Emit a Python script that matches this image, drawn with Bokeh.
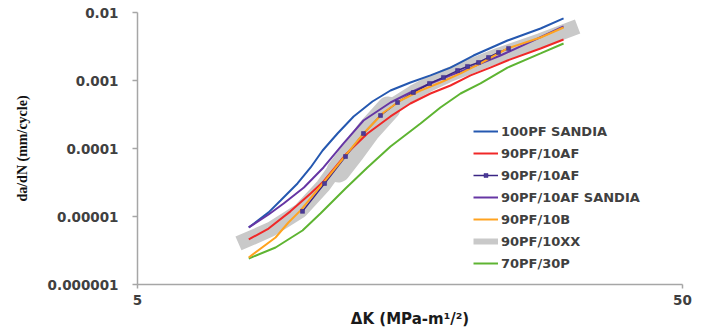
from bokeh.plotting import figure
from bokeh.models import FixedTicker, CustomJSTickFormatter, Legend, LegendItem
from bokeh.embed import file_html
from bokeh.resources import INLINE

# ---- data ----
X_TICKS = [5, 50]
X_LABELS = ["5", "50"]
Y_TICKS = [1e-6, 1e-5, 1e-4, 1e-3, 1e-2]
Y_LABELS = ["0.000001", "0.00001", "0.0001", "0.001", "0.01"]

sandia100_dk = [8.00, 8.70, 9.15, 9.83, 10.39, 10.93, 11.64, 12.46, 13.49, 14.56, 15.84, 17.24, 18.76, 20.68, 23.87, 27.45, 30.25]
sandia100_da = [6.9e-6, 1.15e-5, 1.72e-5, 3.06e-5, 5.26e-5, 9.35e-5, 1.66e-4, 2.96e-4, 4.91e-4, 7.13e-4, 9.35e-4, 1.19e-3, 1.55e-3, 2.33e-3, 3.87e-3, 5.82e-3, 8.2e-3]

af_dk = [8.00, 8.70, 9.54, 10.39, 10.97, 12.10, 13.21, 14.56, 15.84, 17.24, 18.76, 20.42, 22.2, 23.87, 27.45, 30.25]
af_da = [4.59e-6, 6.66e-6, 1.19e-5, 2.18e-5, 3.27e-5, 8.44e-5, 1.66e-4, 2.96e-4, 4.59e-4, 6.44e-4, 8.44e-4, 1.19e-3, 1.55e-3, 1.97e-3, 2.96e-3, 4.01e-3]

afm_dk = [10.04, 11.02, 12.04, 12.99, 13.96, 15.0, 16.04, 17.17, 18.21, 19.33, 20.16, 21.12, 22.03, 22.98, 23.98]
afm_da = [1.19e-5, 3.06e-5, 7.63e-5, 1.66e-4, 3.06e-4, 4.75e-4, 6.66e-4, 9.04e-4, 1.11e-3, 1.40e-3, 1.61e-3, 1.84e-3, 2.18e-3, 2.58e-3, 2.96e-3]

afs_dk = [8.00, 8.70, 9.27, 10.10, 10.97, 11.94, 12.99, 14.56, 15.84, 17.24, 18.76, 20.42, 23.17, 26.6, 30.25]
afs_da = [6.9e-6, 1.07e-5, 1.55e-5, 2.67e-5, 5.26e-5, 1.19e-4, 2.58e-4, 4.75e-4, 6.66e-4, 9.04e-4, 1.19e-3, 1.55e-3, 2.33e-3, 3.87e-3, 6.23e-3]

b_dk = [8.00, 8.96, 9.46, 9.95, 10.97, 12.04, 12.99, 14.14, 15.19, 16.53, 17.98, 19.58, 21.3, 23.87, 27.45, 30.25]
b_da = [2.50e-6, 4.91e-6, 8.16e-6, 1.22e-5, 3.16e-5, 7.89e-5, 1.66e-4, 3.38e-4, 5.08e-4, 7.13e-4, 9.35e-4, 1.27e-3, 1.78e-3, 2.96e-3, 4.29e-3, 6.02e-3]

xx_dk = [7.66, 8.77, 9.95, 10.97, 11.94, 12.99, 13.96, 15.0, 16.04, 17.24, 18.53, 20.16, 23.17, 27.45, 32.1]
xx_da = [4.01e-6, 6.44e-6, 1.22e-5, 2.86e-5, 7.38e-5, 1.66e-4, 3.06e-4, 4.75e-4, 6.66e-4, 9.04e-4, 1.19e-3, 1.55e-3, 2.41e-3, 3.87e-3, 6.23e-3]
# the band is visibly wider through its middle section
xx_mid_dk = [11.69, 12.40, 13.27, 14.43]
xx_mid_da = [4.75e-5, 8.74e-5, 1.84e-4, 3.87e-4]

p30_dk = [8.00, 8.96, 10.04, 10.83, 12.04, 13.21, 14.56, 16.53, 17.98, 19.58, 21.3, 23.87, 27.45, 30.25]
p30_da = [2.41e-6, 3.50e-6, 6.23e-6, 1.11e-5, 2.58e-5, 5.26e-5, 1.07e-4, 2.33e-4, 4.01e-4, 6.44e-4, 9.04e-4, 1.55e-3, 2.50e-3, 3.50e-3]

# ---- figure ----
p = figure(width=704, height=333, x_axis_type="log", y_axis_type="log",
           x_range=(5, 50), y_range=(1e-6, 1e-2),
           output_backend="svg", toolbar_location=None,
           min_border_left=137, min_border_right=22, min_border_top=12, min_border_bottom=49)
p.xgrid.visible = False
p.ygrid.visible = False
p.outline_line_color = None
p.background_fill_color = "white"

fmt_code = """
let best = 0, bd = 1e9;
for (let i = 0; i < tvals.length; i++) {
  const d = Math.abs(Math.log(tick) - Math.log(tvals[i]));
  if (d < bd) { bd = d; best = i; }
}
return tlabels[best];
"""

AX_COLOR = "#A6A6A6"
LBL_COLOR = "#404040"

p.xaxis.ticker = FixedTicker(ticks=X_TICKS, minor_ticks=[])
p.xaxis.formatter = CustomJSTickFormatter(args=dict(tvals=X_TICKS, tlabels=X_LABELS), code=fmt_code)
p.yaxis.ticker = FixedTicker(ticks=Y_TICKS, minor_ticks=[])
p.yaxis.formatter = CustomJSTickFormatter(args=dict(tvals=Y_TICKS, tlabels=Y_LABELS), code=fmt_code)

for ax in (p.xaxis[0], p.yaxis[0]):
    ax.axis_line_color = AX_COLOR
    ax.axis_line_width = 1.5
    ax.major_tick_line_color = AX_COLOR
    ax.major_tick_line_width = 1.5
    ax.major_tick_in = 0
    ax.major_tick_out = 5
    ax.minor_tick_line_color = None
    ax.major_label_text_font = "DejaVu Sans"
    ax.major_label_text_font_style = "bold"
    ax.major_label_text_font_size = "13.5px"
    ax.major_label_text_color = LBL_COLOR

p.yaxis.major_label_standoff = 14
p.xaxis.major_tick_out = 4
p.xaxis.major_label_standoff = 6

p.yaxis.axis_label = "da/dN (mm/cycle)"
p.yaxis.axis_label_text_font = "Liberation Serif"
p.yaxis.axis_label_text_font_style = "bold"
p.yaxis.axis_label_text_font_size = "14px"
p.yaxis.axis_label_text_color = "#111111"
p.yaxis.axis_label_standoff = 15

p.xaxis.axis_label = "ΔK (MPa-m¹/²)"
p.xaxis.axis_label_text_font = "DejaVu Sans"
p.xaxis.axis_label_text_font_style = "bold"
p.xaxis.axis_label_text_font_size = "15px"
p.xaxis.axis_label_text_color = "#1a1a1a"
p.xaxis.axis_label_standoff = 2

# ---- series ----
GRAY = "#C9C9C9"
r_xx = p.line(xx_dk, xx_da, line_color=GRAY, line_width=15)
p.line(xx_mid_dk, xx_mid_da, line_color=GRAY, line_width=24, line_cap="round", line_join="round")
r_p30 = p.line(p30_dk, p30_da, line_color="#5EB432", line_width=2)
r_s100 = p.line(sandia100_dk, sandia100_da, line_color="#2558B0", line_width=2)
r_af = p.line(af_dk, af_da, line_color="#F02828", line_width=2)
r_afs = p.line(afs_dk, afs_da, line_color="#6636A4", line_width=2)
r_afm_line = p.line(afm_dk, afm_da, line_color="#3A2584", line_width=1.5)
r_b = p.line(b_dk, b_da, line_color="#FFA320", line_width=2)
r_afm_pts = p.scatter(afm_dk, afm_da, marker="square", size=4,
                      fill_color="#4A3A98", line_color="#3A2584", line_width=0.5)

# legend-only proxy for the wide gray band (thinner swatch, as in the reference)
r_xx_leg = p.line(xx_dk[:1], xx_da[:1], line_color=GRAY, line_width=6)

items = [
    LegendItem(label="100PF SANDIA", renderers=[r_s100]),
    LegendItem(label="90PF/10AF", renderers=[r_af]),
    LegendItem(label="90PF/10AF", renderers=[r_afm_line, r_afm_pts]),
    LegendItem(label="90PF/10AF SANDIA", renderers=[r_afs]),
    LegendItem(label="90PF/10B", renderers=[r_b]),
    LegendItem(label="90PF/10XX", renderers=[r_xx_leg]),
    LegendItem(label="70PF/30P", renderers=[r_p30]),
]
legend = Legend(items=items, location=(336, 10),
                border_line_color=None, background_fill_alpha=0,
                padding=0, margin=0, spacing=0,
                label_height=22, glyph_height=10, glyph_width=25, label_standoff=3,
                label_text_font="DejaVu Sans", label_text_font_style="bold",
                label_text_font_size="13px", label_text_color=LBL_COLOR)
p.add_layout(legend)

open("out.html", "w").write(file_html(p, INLINE))
